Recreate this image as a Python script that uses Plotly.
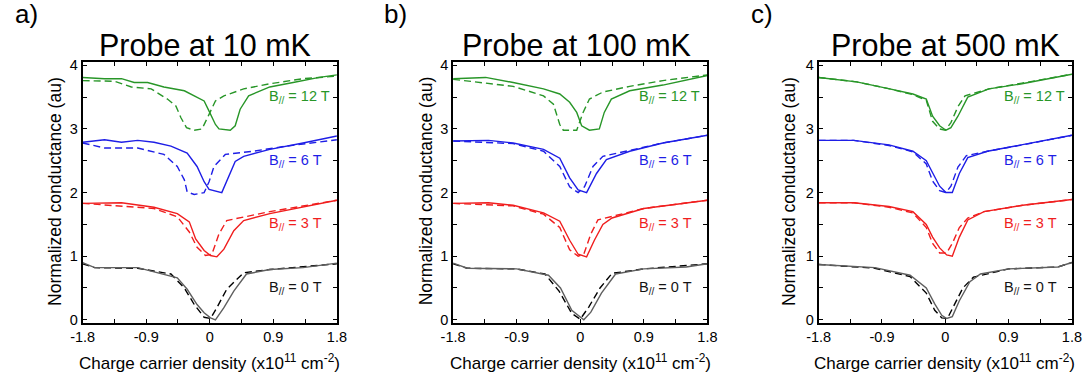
import plotly.graph_objects as go

# ---------------- data ----------------
panel_titles = ["Probe at 10 mK", "Probe at 100 mK", "Probe at 500 mK"]
panel_letters = ["a)", "b)", "c)"]
field_labels = ["B<sub>//</sub> = 12 T", "B<sub>//</sub> = 6 T", "B<sub>//</sub> = 3 T", "B<sub>//</sub> = 0 T"]
field_label_y = [3.5, 2.5, 1.5, 0.5]
x_tickvals = [-1.8, -1.35, -0.9, -0.45, 0, 0.45, 0.9, 1.35, 1.8]
x_ticktext = ["-1.8", "", "-0.9", "", "0", "", "0.9", "", "1.8"]
y_tickvals = [0, 0.5, 1, 1.5, 2, 2.5, 3, 3.5, 4]
y_ticktext = ["0", "", "1", "", "2", "", "3", "", "4"]

# Panel a (10 mK)
a12_sx = [-1.8, -1.6, -1.49, -1.25, -1.07, -0.88, -0.65, -0.36, -0.08, -0.01, 0.08, 0.13, 0.29, 0.36, 0.43, 0.55, 0.85, 1.18, 1.55, 1.8]
a12_sy = [3.81, 3.80, 3.79, 3.79, 3.73, 3.73, 3.66, 3.60, 3.44, 3.28, 3.07, 3.0, 2.98, 3.05, 3.31, 3.52, 3.66, 3.73, 3.81, 3.85]
a12_dx = [-1.8, -1.35, -1.11, -0.83, -0.6, -0.48, -0.41, -0.33, -0.22, -0.11, -0.01, 0.08, 0.2, 0.48, 0.85, 1.32, 1.8]
a12_dy = [3.76, 3.75, 3.66, 3.63, 3.47, 3.36, 3.18, 3.02, 2.98, 3.0, 3.23, 3.44, 3.52, 3.63, 3.71, 3.79, 3.83]
a6_sx = [-1.8, -1.49, -1.25, -1.02, -0.79, -0.55, -0.32, -0.18, -0.08, -0.01, 0.17, 0.36, 0.48, 0.85, 1.32, 1.8]
a6_sy = [2.79, 2.83, 2.79, 2.82, 2.79, 2.73, 2.62, 2.41, 2.17, 2.05, 2.0, 2.49, 2.57, 2.68, 2.78, 2.89]
a6_dx = [-1.8, -1.49, -1.02, -0.65, -0.46, -0.36, -0.32, -0.22, -0.08, -0.01, 0.06, 0.22, 0.62, 1.08, 1.8]
a6_dy = [2.78, 2.70, 2.70, 2.60, 2.41, 2.20, 2.01, 1.97, 2.0, 2.17, 2.41, 2.6, 2.65, 2.73, 2.83]
a3_sx = [-1.8, -1.25, -0.79, -0.46, -0.29, -0.2, -0.08, 0.01, 0.1, 0.2, 0.34, 0.48, 0.85, 1.32, 1.8]
a3_sy = [1.83, 1.84, 1.77, 1.67, 1.54, 1.27, 1.09, 1.01, 0.99, 1.11, 1.40, 1.56, 1.67, 1.77, 1.88]
a3_dx = [-1.8, -0.79, -0.46, -0.29, -0.18, -0.06, 0.03, 0.13, 0.24, 0.85, 1.8]
a3_dy = [1.83, 1.75, 1.62, 1.38, 1.14, 1.01, 1.03, 1.35, 1.56, 1.70, 1.88]
a0_sx = [-1.8, -1.63, -1.02, -0.46, -0.32, -0.18, -0.08, 0.01, 0.08, 0.2, 0.34, 0.52, 0.85, 1.32, 1.8]
a0_sy = [0.90, 0.82, 0.82, 0.66, 0.48, 0.24, 0.11, 0.03, 0.0, 0.19, 0.45, 0.72, 0.79, 0.82, 0.89]
a0_dx = [-1.8, -1.63, -1.02, -0.55, -0.36, -0.22, -0.08, 0.01, 0.1, 0.24, 0.48, 0.85, 1.8]
a0_dy = [0.88, 0.82, 0.81, 0.72, 0.50, 0.24, 0.04, 0.02, 0.19, 0.48, 0.74, 0.79, 0.88]

# Panel b (100 mK)
b12_sx = [-1.8, -1.34, -0.95, -0.52, -0.29, -0.15, -0.05, 0.02, 0.13, 0.27, 0.34, 0.44, 0.7, 1.17, 1.8]
b12_sy = [3.79, 3.81, 3.73, 3.63, 3.55, 3.42, 3.26, 3.05, 2.98, 3.0, 3.26, 3.47, 3.60, 3.69, 3.84]
b12_dx = [-1.8, -0.95, -0.52, -0.38, -0.29, -0.24, -0.05, 0.04, 0.13, 0.32, 0.7, 1.17, 1.8]
b12_dy = [3.78, 3.67, 3.52, 3.39, 3.07, 2.98, 2.98, 3.26, 3.47, 3.58, 3.67, 3.76, 3.85]
b6_sx = [-1.8, -1.3, -0.95, -0.52, -0.29, -0.15, -0.03, 0.09, 0.23, 0.37, 0.7, 1.17, 1.8]
b6_sy = [2.81, 2.82, 2.78, 2.68, 2.54, 2.23, 2.04, 2.0, 2.30, 2.52, 2.65, 2.78, 2.9]
b6_dx = [-1.8, -0.95, -0.52, -0.29, -0.15, -0.03, 0.06, 0.18, 0.32, 0.7, 1.17, 1.8]
b6_dy = [2.81, 2.77, 2.65, 2.41, 2.09, 2.0, 2.09, 2.41, 2.57, 2.66, 2.78, 2.9]
b3_sx = [-1.8, -1.3, -0.95, -0.52, -0.29, -0.15, -0.03, 0.09, 0.2, 0.32, 0.45, 0.9, 1.8]
b3_sy = [1.83, 1.84, 1.80, 1.68, 1.55, 1.25, 1.03, 0.99, 1.25, 1.50, 1.60, 1.75, 1.88]
b3_dx = [-1.8, -0.95, -0.52, -0.29, -0.15, -0.03, 0.05, 0.15, 0.25, 0.9, 1.8]
b3_dy = [1.83, 1.79, 1.66, 1.45, 1.10, 1.0, 1.03, 1.35, 1.57, 1.75, 1.88]
b0_sx = [-1.8, -1.6, -0.9, -0.45, -0.28, -0.12, 0.05, 0.15, 0.3, 0.5, 0.9, 1.5, 1.8]
b0_sy = [0.89, 0.81, 0.80, 0.70, 0.50, 0.15, 0.0, 0.12, 0.42, 0.72, 0.80, 0.83, 0.88]
b0_dx = [-1.8, -1.6, -0.9, -0.5, -0.3, -0.12, 0.0, 0.12, 0.28, 0.45, 0.9, 1.8]
b0_dy = [0.88, 0.81, 0.80, 0.72, 0.45, 0.10, 0.01, 0.20, 0.50, 0.73, 0.80, 0.88]

# Panel c (500 mK)
c12_sx = [-1.8, -1.26, -0.79, -0.46, -0.27, -0.18, -0.08, 0.01, 0.08, 0.18, 0.32, 0.62, 1.09, 1.8]
c12_sy = [3.81, 3.74, 3.63, 3.55, 3.47, 3.20, 3.05, 2.98, 3.02, 3.20, 3.50, 3.63, 3.71, 3.86]
c12_dx = [-1.8, -1.26, -0.79, -0.46, -0.27, -0.18, -0.08, 0.0, 0.08, 0.18, 0.28, 0.62, 1.09, 1.8]
c12_dy = [3.81, 3.74, 3.63, 3.54, 3.45, 3.12, 3.0, 2.98, 3.10, 3.35, 3.52, 3.63, 3.72, 3.86]
c6_sx = [-1.8, -1.3, -0.8, -0.46, -0.27, -0.18, -0.08, 0.01, 0.1, 0.2, 0.32, 0.6, 1.1, 1.8]
c6_sy = [2.82, 2.82, 2.75, 2.65, 2.50, 2.30, 2.10, 2.0, 2.0, 2.30, 2.55, 2.65, 2.75, 2.9]
c6_dx = [-1.8, -1.3, -0.8, -0.46, -0.27, -0.18, -0.08, 0.01, 0.08, 0.18, 0.3, 0.6, 1.1, 1.8]
c6_dy = [2.82, 2.82, 2.74, 2.64, 2.45, 2.18, 2.03, 2.0, 2.10, 2.40, 2.58, 2.65, 2.75, 2.9]
c3_sx = [-1.8, -1.3, -0.8, -0.46, -0.27, -0.18, -0.08, 0.02, 0.1, 0.2, 0.32, 0.55, 1.1, 1.8]
c3_sy = [1.84, 1.84, 1.78, 1.70, 1.50, 1.30, 1.13, 1.02, 1.0, 1.30, 1.57, 1.70, 1.80, 1.89]
c3_dx = [-1.8, -1.3, -0.8, -0.46, -0.27, -0.18, -0.08, 0.02, 0.1, 0.2, 0.32, 0.55, 1.1, 1.8]
c3_dy = [1.84, 1.84, 1.77, 1.68, 1.45, 1.20, 1.05, 1.05, 1.20, 1.45, 1.60, 1.70, 1.80, 1.89]
c0_sx = [-1.8, -1.0, -0.5, -0.27, -0.15, -0.05, 0.02, 0.1, 0.2, 0.35, 0.5, 0.9, 1.6, 1.8]
c0_sy = [0.87, 0.82, 0.70, 0.50, 0.25, 0.07, 0.02, 0.05, 0.30, 0.60, 0.72, 0.80, 0.83, 0.90]
c0_dx = [-1.8, -1.0, -0.5, -0.27, -0.15, -0.05, 0.03, 0.12, 0.25, 0.4, 0.9, 1.6, 1.8]
c0_dy = [0.87, 0.81, 0.68, 0.42, 0.15, 0.03, 0.02, 0.22, 0.50, 0.67, 0.80, 0.83, 0.90]

# ---------------- styling ----------------
solid_colors = ["rgb(40,150,40)", "rgb(30,30,230)", "rgb(240,30,30)", "rgb(95,95,95)"]
dash_colors = ["rgb(40,150,40)", "rgb(30,30,230)", "rgb(240,30,30)", "rgb(0,0,0)"]
label_colors = ["rgb(40,150,40)", "rgb(30,30,230)", "rgb(240,30,30)", "rgb(20,20,20)"]
FONT = "Liberation Sans, Arial, sans-serif"
W, H = 1086, 376

# the photographed page carries an 8px body margin and is fitted back to 1086x376;
# convert wanted on-screen pixel positions into figure pixel positions
SX, SY = W / (W + 16), H / (H + 16)
def fx(px):
    return (px / SX - 8) / W
def fy(py):
    return 1 - (py / SY - 8) / H

panels = [
    [(a12_sx, a12_sy, a12_dx, a12_dy), (a6_sx, a6_sy, a6_dx, a6_dy),
     (a3_sx, a3_sy, a3_dx, a3_dy), (a0_sx, a0_sy, a0_dx, a0_dy)],
    [(b12_sx, b12_sy, b12_dx, b12_dy), (b6_sx, b6_sy, b6_dx, b6_dy),
     (b3_sx, b3_sy, b3_dx, b3_dy), (b0_sx, b0_sy, b0_dx, b0_dy)],
    [(c12_sx, c12_sy, c12_dx, c12_dy), (c6_sx, c6_sy, c6_dx, c6_dy),
     (c3_sx, c3_sy, c3_dx, c3_dy), (c0_sx, c0_sy, c0_dx, c0_dy)],
]

# on-screen pixel layout of each panel (measured on the reference)
box_left = [78, 451, 819]
box_right = [334, 707, 1074]
box_top, box_bottom = 64, 321
title_center_px = [201, 575, 947]
xtitle_center_px = [206, 579, 946]
ytitle_px = [50, 424, 789]
letter_center_px = [21, 393, 762]

fig = go.Figure()
annotations = []
for p in range(3):
    xa = "x" if p == 0 else f"x{p+1}"
    ya = "y" if p == 0 else f"y{p+1}"
    for i, (sx, sy, dx, dy) in enumerate(panels[p]):
        fig.add_trace(go.Scatter(x=dx, y=dy, mode="lines", xaxis=xa, yaxis=ya,
                                 line=dict(color=dash_colors[i], width=1.4, dash="7px,4px"),
                                 showlegend=False, hoverinfo="skip"))
        fig.add_trace(go.Scatter(x=sx, y=sy, mode="lines", xaxis=xa, yaxis=ya,
                                 line=dict(color=solid_colors[i], width=1.4),
                                 showlegend=False, hoverinfo="skip"))
        annotations.append(dict(x=0.81, y=field_label_y[i], xref=xa, yref=ya,
                                text=field_labels[i], showarrow=False,
                                xanchor="left", yanchor="middle",
                                font=dict(family=FONT, size=14.5, color=label_colors[i])))
    annotations.append(dict(x=fx(title_center_px[p]), y=fy(47), xref="paper", yref="paper",
                            text=panel_titles[p], showarrow=False,
                            xanchor="center", yanchor="middle",
                            font=dict(family=FONT, size=30.5, color="black")))
    annotations.append(dict(x=fx(letter_center_px[p]), y=fy(17), xref="paper", yref="paper",
                            text=panel_letters[p], showarrow=False,
                            xanchor="center", yanchor="middle",
                            font=dict(family=FONT, size=26, color="black")))
    annotations.append(dict(x=fx(xtitle_center_px[p]), y=fy(359), xref="paper", yref="paper",
                            text="Charge carrier density (x10<sup>11</sup> cm<sup>-2</sup>)",
                            showarrow=False, xanchor="center", yanchor="middle",
                            font=dict(family=FONT, size=17, color="black")))
    annotations.append(dict(x=fx(ytitle_px[p]), y=fy(191), xref="paper", yref="paper",
                            text="Normalized conductance (au)", textangle=-90,
                            showarrow=False, xanchor="center", yanchor="middle",
                            font=dict(family=FONT, size=17.5, color="black")))

axis_common = dict(showline=True, linewidth=2, linecolor="black", mirror="ticks",
                   ticks="inside", ticklen=4, tickwidth=1, tickcolor="black",
                   showgrid=False, zeroline=False,
                   tickfont=dict(family=FONT, size=14.5, color="black"))
layout_axes = {}
for p in range(3):
    sfx = "" if p == 0 else str(p + 1)
    layout_axes[f"xaxis{sfx}"] = dict(axis_common, domain=[fx(box_left[p]), fx(box_right[p])],
                                      range=[-1.8, 1.8], tickvals=x_tickvals, ticktext=x_ticktext,
                                      anchor=f"y{sfx}")
    layout_axes[f"yaxis{sfx}"] = dict(axis_common, domain=[fy(box_bottom), fy(box_top)],
                                      range=[-0.05, 4.05], tickvals=y_tickvals, ticktext=y_ticktext,
                                      anchor=f"x{sfx}")

fig.update_layout(width=W, height=H, margin=dict(l=0, r=0, t=0, b=0), autosize=False,
                  paper_bgcolor="white", plot_bgcolor="white",
                  annotations=annotations, **layout_axes)

fig.write_html("out.html")
